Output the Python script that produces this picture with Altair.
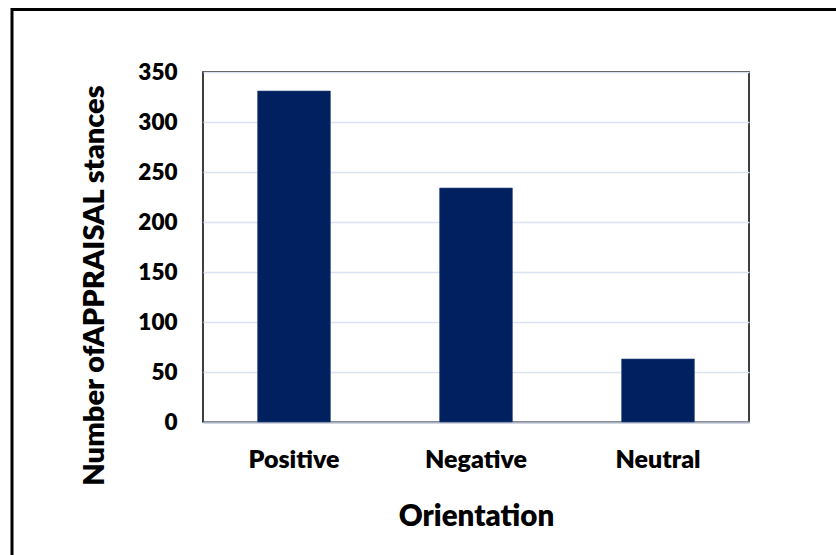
import altair as alt
import pandas as pd

categories = ["Positive", "Negative", "Neutral"]
counts = [331, 234, 63]
y_ticks = [0, 50, 100, 150, 200, 250, 300, 350]

df = pd.DataFrame({"Orientation": categories, "Count": counts})
frame_df = pd.DataFrame({"k": [0]})

FONT = "Lato"
W = 800

bars = alt.Chart(df).mark_bar(color="#002060", stroke="#2F4A80", strokeWidth=0.6).encode(
    x=alt.X(
        "Orientation:N",
        sort=categories,
        scale=alt.Scale(paddingInner=0.6, paddingOuter=0.3),
        axis=alt.Axis(
            title="Orientation",
            labelAngle=0,
            labelFont=FONT, labelFontSize=25, labelFontWeight=W, labelColor="#000000",
            labelBaseline="alphabetic", labelPadding=45,
            ticks=False, tickSize=0,
            domain=True, domainColor="#A9B2C3", domainWidth=2,
            titleFont=FONT, titleFontSize=29.5, titleFontWeight=W, titleColor="#000000",
            titleBaseline="alphabetic", titleY=103,
        ),
    ),
    y=alt.Y(
        "Count:Q",
        scale=alt.Scale(domain=[0, 350], nice=False),
        axis=alt.Axis(
            title="Number ofAPPRAISAL stances",
            values=y_ticks,
            labelFont=FONT, labelFontSize=22.5, labelFontWeight=W, labelColor="#000000",
            labelPadding=26,
            ticks=False, tickSize=0, domain=False,
            grid=True, gridColor="#D9E3F1", gridWidth=1.5,
            titleFont=FONT, titleFontSize=29, titleFontWeight=W, titleColor="#000000",
            titleAngle=-90, titleAlign="center", titleBaseline="alphabetic",
            titleX=-100, titleY=213,
        ),
    ),
)

frame_top = alt.Chart(frame_df).mark_rule(color="#000000", strokeWidth=3).encode(
    x=alt.value(-192), x2=alt.value(700), y=alt.value(-62.5)
)
frame_left = alt.Chart(frame_df).mark_rule(color="#000000", strokeWidth=3).encode(
    x=alt.value(-191), y=alt.value(-64), y2=alt.value(500)
)

chart = alt.layer(bars, frame_top, frame_left).properties(
    width=546,
    height=350,
    autosize=alt.AutoSizeParams(type="none"),
    padding={"left": 203, "top": 72, "right": 87, "bottom": 133},
    background="#ffffff",
).configure_view(
    stroke="#000000", strokeWidth=1.5
)

chart.save("out.html", embed_options={"renderer": "svg", "actions": False})
